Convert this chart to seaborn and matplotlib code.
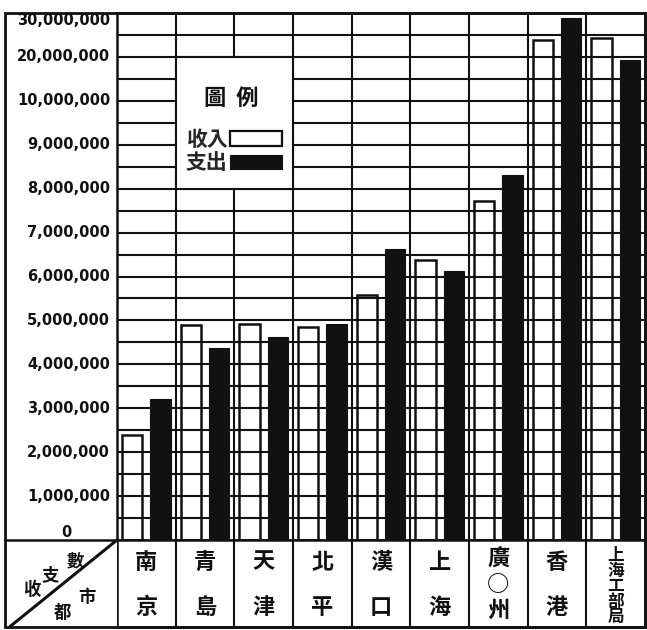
import numpy as np
import pandas as pd
import matplotlib
matplotlib.use("Agg")
import matplotlib.pyplot as plt
from matplotlib.patches import Rectangle, Patch
import seaborn as sns

# ---- data (yuan) ----
cities = ["南京", "青島", "天津", "北平", "漢口", "上海", "廣州", "香港", "上海工部局"]
city_labels = ["南京", "青島", "天津", "北平", "漢口", "上海", "廣○州", "香港", "上海工部局"]
series_names = ["收入", "支出"]
income = [2_380_000, 4_900_000, 4_910_000, 4_860_000, 5_570_000, 6_380_000, 7_720_000, 23_800_000, 24_200_000]
expenditure = [3_200_000, 4_380_000, 4_630_000, 4_910_000, 6_630_000, 6_130_000, 8_310_000, 28_800_000, 19_200_000]

ytick_values = [0, 1e6, 2e6, 3e6, 4e6, 5e6, 6e6, 7e6, 8e6, 9e6, 1e7, 2e7, 3e7]
ytick_labels = ["0", "1,000,000", "2,000,000", "3,000,000", "4,000,000", "5,000,000",
                "6,000,000", "7,000,000", "8,000,000", "9,000,000", "10,000,000",
                "20,000,000", "30,000,000"]
minor_values = [5e5, 1.5e6, 2.5e6, 3.5e6, 4.5e6, 5.5e6, 6.5e6, 7.5e6, 8.5e6, 9.5e6, 1.5e7, 2.5e7]

corner_row = "收支數"
corner_col = "都市"
legend_title = "圖  例"

df = pd.DataFrame({
    "都市": cities * 2,
    "項目": [series_names[0]] * len(cities) + [series_names[1]] * len(cities),
    "數": income + expenditure,
})

# ---- style ----
sns.set_style("white")
CJK = ["Noto Sans CJK TC", "DejaVu Sans"]
plt.rcParams["font.family"] = CJK
INK = "#111111"
LW = 1.5

W, H = 647, 630
fig = plt.figure(figsize=(W / 100, H / 100), dpi=100)
fig.patch.set_facecolor("white")

def frac_box(x0, y0, x1, y1):
    """pixel box (top-left origin) -> figure fraction [l, b, w, h]"""
    return [x0 / W, 1 - y1 / H, (x1 - x0) / W, (y1 - y0) / H]

X_LEFT, X_RIGHT, Y_TOP, Y_ZERO, Y_BOT, X_BORDER = 117, 645, 13, 540, 627, 5

ax = fig.add_axes(frac_box(X_LEFT, Y_TOP, X_RIGHT, Y_ZERO))
tab = fig.add_axes(frac_box(X_LEFT, Y_ZERO, X_RIGHT, Y_BOT))
corner = fig.add_axes(frac_box(X_BORDER, Y_ZERO, X_LEFT, Y_BOT))

# broken scale: linear to 10 million, then one step per 10 million
def fwd(v):
    v = np.asarray(v, dtype=float)
    return np.where(v <= 1e7, v / 1e6, 10 + (v - 1e7) / 1e7)

def inv(u):
    u = np.asarray(u, dtype=float)
    return np.where(u <= 10, u * 1e6, 1e7 + (u - 10) * 1e7)

sns.barplot(data=df, x="都市", y="數", hue="項目", order=cities, hue_order=series_names,
            palette=["white", INK], width=0.96, gap=0.28, edgecolor=INK, linewidth=1.6,
            errorbar=None, legend=False, ax=ax, zorder=2)
ax.set_yscale("function", functions=(fwd, inv))
ax.set_ylim(0, 3e7)
ax.set_xlim(-0.5, len(cities) - 0.5)

# income bars are open outlines, grid shows through
for p in ax.containers[0]:
    p.set_facecolor("none")
    p.set_edgecolor(INK)
    p.set_linewidth(1.8)
for p in ax.containers[1]:
    p.set_linewidth(0.8)

for v in ytick_values[1:-1] + minor_values:
    ax.axhline(v, color=INK, lw=LW, zorder=1)
for i in range(1, len(cities)):
    ax.axvline(i - 0.5, color=INK, lw=LW, zorder=1)

ax.set_xlabel("")
ax.set_ylabel("")
ax.set_xticks([])
ax.set_yticks([])
for s in ax.spines.values():
    s.set_color(INK)
    s.set_linewidth(1.8)

# value labels in the left column
ytr = ax.get_yaxis_transform()
num_font = dict(family="DejaVu Sans", weight="bold", size=10.5, color=INK)
for v, lab in zip(ytick_values, ytick_labels):
    if v == 0:
        ax.text(-0.095, v, lab, transform=ytr, ha="center", va="bottom", **num_font)
    elif v == 3e7:
        ax.text(-0.013, v, lab, transform=ytr, ha="right", va="top", **num_font)
    else:
        ax.text(-0.013, v, lab, transform=ytr, ha="right", va="center", **num_font)

# legend panel
ax.add_patch(Rectangle((0.5, 8e6), 2.0, 1.2e7, facecolor="white", edgecolor=INK,
                       lw=LW, zorder=3))
ax.text(0.216, 0.838, legend_title, transform=ax.transAxes, ha="center", va="center",
        fontsize=16, fontweight="bold", family=CJK, color=INK, zorder=6)
handles = [Patch(facecolor="white", edgecolor=INK, lw=1.6),
           Patch(facecolor=INK, edgecolor=INK, lw=0.8)]
ax.legend(handles=handles, labels=series_names, frameon=False, markerfirst=False,
          loc="center", bbox_to_anchor=(0.222, 0.738), bbox_transform=ax.transAxes,
          prop=dict(family=CJK, weight="bold", size=15), handlelength=2.5,
          handleheight=0.7, handletextpad=0.12, labelspacing=0.12, borderpad=0)

# city table under the bars
tab.set_xlim(-0.5, len(cities) - 0.5)
tab.set_ylim(0, 1)
tab.set_xticks([])
tab.set_yticks([])
for s in tab.spines.values():
    s.set_color(INK)
    s.set_linewidth(1.8)
for i in range(1, len(cities)):
    tab.axvline(i - 0.5, color=INK, lw=LW)

for i, lab in enumerate(city_labels):
    if len(lab) == 2:
        for ch, yy in zip(lab, [0.745, 0.22]):
            tab.text(i, yy, ch, ha="center", va="center", fontsize=16,
                     fontweight="bold", family=CJK, color=INK)
    elif len(lab) == 3:
        tab.text(i, 0.483, "\n".join(lab), ha="center", va="center", fontsize=16,
                 fontweight="bold", family=CJK, color=INK, linespacing=1.15)
    else:
        tab.text(i, 0.47, "\n".join(lab), ha="center", va="center", fontsize=12,
                 fontweight="bold", family=CJK, color=INK, linespacing=0.83)

# header cell with diagonal split
corner.set_xlim(0, 1)
corner.set_ylim(0, 1)
corner.set_xticks([])
corner.set_yticks([])
for s in corner.spines.values():
    s.set_visible(False)
corner.spines["top"].set_visible(True)
corner.spines["top"].set_linewidth(1.8)
corner.spines["top"].set_color(INK)
corner.plot([0.04, 1], [0, 1], color=INK, lw=2.2, solid_capstyle="butt")
for ch, (cx, cy) in zip(corner_row, [(0.24, 0.43), (0.40, 0.60), (0.625, 0.75)]):
    corner.text(cx, cy, ch, ha="center", va="center", fontsize=12.5,
                fontweight="bold", family=CJK, color=INK)
for ch, (cx, cy) in zip(corner_col, [(0.51, 0.16), (0.73, 0.34)]):
    corner.text(cx, cy, ch, ha="center", va="center", fontsize=12.5,
                fontweight="bold", family=CJK, color=INK)

# outer frame
fig.add_artist(Rectangle((X_BORDER / W, 1 - Y_BOT / H), (X_RIGHT - X_BORDER) / W,
                         (Y_BOT - Y_TOP) / H, transform=fig.transFigure,
                         fill=False, edgecolor=INK, lw=2.0))

fig.savefig("out.png", dpi=100, facecolor="white")
